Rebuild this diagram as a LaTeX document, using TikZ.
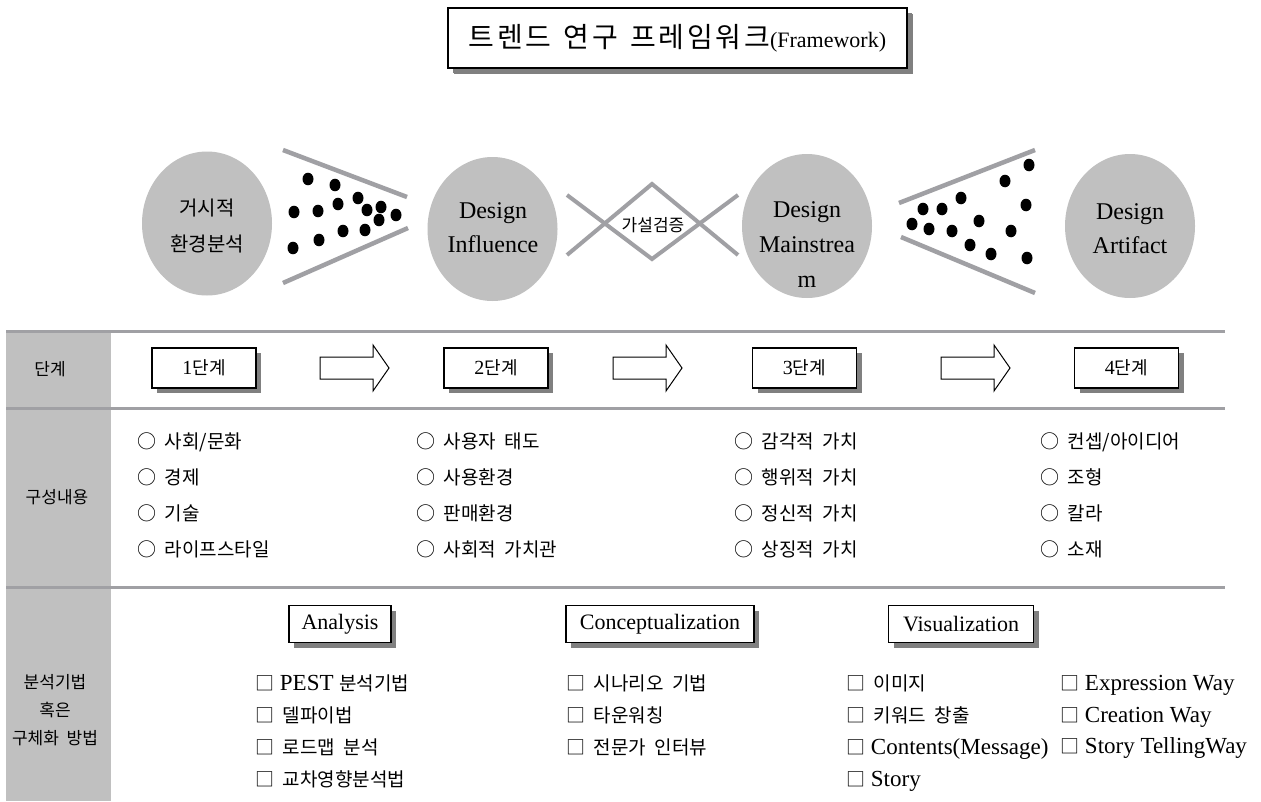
\documentclass[tikz,border=0pt]{standalone}
\usepackage{fontspec}
\setmainfont{Liberation Serif}
\newfontfamily\kr[WordSpace=2]{Noto Sans CJK KR}
\newfontfamily\krt[LetterSpace=10,WordSpace=2]{Noto Sans CJK KR}
\usetikzlibrary{shadows,shapes.geometric,calc}
\definecolor{blobgray}{HTML}{C0C0C0}
\definecolor{linegray}{HTML}{A0A0A4}
\definecolor{shadowgray}{HTML}{808080}
\newcommand\K[1]{{\kr\fontsize{19}{31.7}\selectfont #1}}
\begin{document}
\begin{tikzpicture}[x=1pt,y=-1pt,
  blob/.style={ellipse, fill=blobgray, draw=none, minimum width=130pt, minimum height=144pt, inner sep=0pt},
  etext/.style={align=center, inner sep=0pt},
  sbox/.style={draw=black, line width=1.2pt, fill=white, inner sep=0pt,
     drop shadow={shadow xshift=5pt, shadow yshift=-5pt, fill=shadowgray, opacity=1}},
  funnel/.style={draw=linegray, line width=4.5pt},
  xline/.style={draw=linegray, line width=4pt},
  rule/.style={draw=linegray, line width=3pt},
  barrow/.style={draw=black, line width=1pt, fill=white, line join=miter},
  lab/.style={inner sep=0pt, font=\kr\fontsize{17}{20}\selectfont},
  itemk/.style={anchor=north west, inner sep=0pt, align=left, font=\kr\fontsize{19}{35.7}\selectfont},
  itemm/.style={anchor=north west, inner sep=0pt, align=left, font=\fontsize{23}{31.7}\selectfont},
  dot/.style={fill=black}
]
\useasboundingbox (0,0) rectangle (1261,801);
\fill[white] (0,0) rectangle (1261,801);

% title
\node[sbox, minimum width=459pt, minimum height=60pt, drop shadow={shadow xshift=6pt, shadow yshift=-6pt, fill=shadowgray, opacity=1}] (title) at (677.5,38)
  {{\krt\fontsize{28}{30}\selectfont 트렌드\hspace{12pt}연구\hspace{12pt}프레임워크}\fontsize{22}{24}\selectfont(Framework)};

% ellipses
\node[blob] (e1) at (207,223.5) {};
\node[blob] (e2) at (492.5,229) {};
\node[blob] (e3) at (807,226) {};
\node[blob] (e4) at (1130,226) {};
\node[etext, font=\kr\fontsize{20}{36}\selectfont] (t1) at (207,226) {거시적\\환경분석};
\node[etext, font=\fontsize{24}{34}\selectfont] (t2) at (493,228) {Design\\Influence};
\node[etext, font=\fontsize{24}{35}\selectfont] (t3) at (807,245) {Design\\Mainstrea\\m};
\node[etext, font=\fontsize{24}{34}\selectfont] (t4) at (1130,229) {Design\\Artifact};

% funnel 1
\draw[funnel] (283,150) -- (407,197);
\draw[funnel] (283,283) -- (408,228);
\foreach \px/\py in {308/179,335/185,358/198,338/204,294/212,318/211,367/210,381/207,396/215,379/220,343/231,365/230,319/240,293/248}
  \fill[dot] (\px,\py) ellipse [x radius=5.5pt, y radius=6.3pt];

% hypothesis cross
\draw[xline] (567,255) -- (652,184) -- (738,255);
\draw[xline] (567,195) -- (652,259) -- (738,195);
\node[inner sep=0pt, font=\kr\fontsize{17}{20}\selectfont] (hyp) at (653,225) {가설검증};

% funnel 2
\draw[funnel] (899,203) -- (1035,150);
\draw[funnel] (901,237) -- (1035,293);
\foreach \px/\py in {1029/165,1005/181,961/198,1026/205,923/209,942/209,979/221,912/224,929/229,952/231,1011/231,970/245,991/254,1027/258}
  \fill[dot] (\px,\py) ellipse [x radius=5.5pt, y radius=6.3pt];

% table frame
\fill[blobgray] (6,331) rectangle (111,801);
\draw[rule] (6,331) -- (1225,331);
\draw[rule] (6,408) -- (1225,408);
\draw[rule] (6,587) -- (1225,587);

\node[lab] (l1) at (50,369) {단계};
\node[lab] (l2) at (57,497) {구성내용};
\node[lab, align=center, font=\kr\fontsize{17}{28}\selectfont] (l3) at (55,710) {분석기법\\혹은\\구체화 방법};

% stage boxes
\node[sbox, minimum width=104pt, minimum height=40pt, font=\fontsize{20}{22}\selectfont] (s1) at (204,368) {1{\kr\fontsize{18}{20}\selectfont 단계}};
\node[sbox, minimum width=104pt, minimum height=40pt, font=\fontsize{20}{22}\selectfont] (s2) at (496,368) {2{\kr\fontsize{18}{20}\selectfont 단계}};
\node[sbox, minimum width=104pt, minimum height=40pt, font=\fontsize{20}{22}\selectfont] (s3) at (804.5,368) {3{\kr\fontsize{18}{20}\selectfont 단계}};
\node[sbox, minimum width=104pt, minimum height=40pt, font=\fontsize{20}{22}\selectfont] (s4) at (1126.5,368) {4{\kr\fontsize{18}{20}\selectfont 단계}};

% block arrows
\foreach \dx in {0,293,621}
  \draw[barrow] (320+\dx,357) -- (373+\dx,357) -- (373+\dx,345) -- (389+\dx,368) -- (373+\dx,391) -- (373+\dx,379) -- (320+\dx,379) -- cycle;

% contents row
\node[itemk] (c1) at (137,433) {○ 사회/문화\\○ 경제\\○ 기술\\○ 라이프스타일};
\node[itemk] (c2) at (416,433) {○ 사용자 태도\\○ 사용환경\\○ 판매환경\\○ 사회적 가치관};
\node[itemk] (c3) at (734,433) {○ 감각적 가치\\○ 행위적 가치\\○ 정신적 가치\\○ 상징적 가치};
\node[itemk] (c4) at (1040,433) {○ 컨셉/아이디어\\○ 조형\\○ 칼라\\○ 소재};

% method headers
\node[sbox, minimum width=102pt, minimum height=37pt, font=\fontsize{22}{24}\selectfont] (h1) at (340,624) {Analysis};
\node[sbox, minimum width=188pt, minimum height=37pt, font=\fontsize{22}{24}\selectfont] (h2) at (660,624) {Conceptualization};
\node[sbox, minimum width=145pt, minimum height=37pt, font=\fontsize{22}{24}\selectfont] (h3) at (961,624) {Visualization};

% method items
\node[itemm] (m1) at (255,675) {\K{□} PEST \K{분석기법}\\\K{□ 델파이법}\\\K{□ 로드맵 분석}\\\K{□ 교차영향분석법}};
\node[itemm] (m2) at (566,675) {\K{□ 시나리오 기법}\\\K{□ 타운워칭}\\\K{□ 전문가 인터뷰}};
\node[itemm] (m3) at (846,675) {\K{□ 이미지}\\\K{□ 키워드 창출}\\\K{□} Contents(Message)\\\K{□} Story};
\node[itemm] (m4) at (1060,675) {\K{□} Expression Way\\\K{□} Creation Way\\\K{□} Story TellingWay};
\end{tikzpicture}
\end{document}
